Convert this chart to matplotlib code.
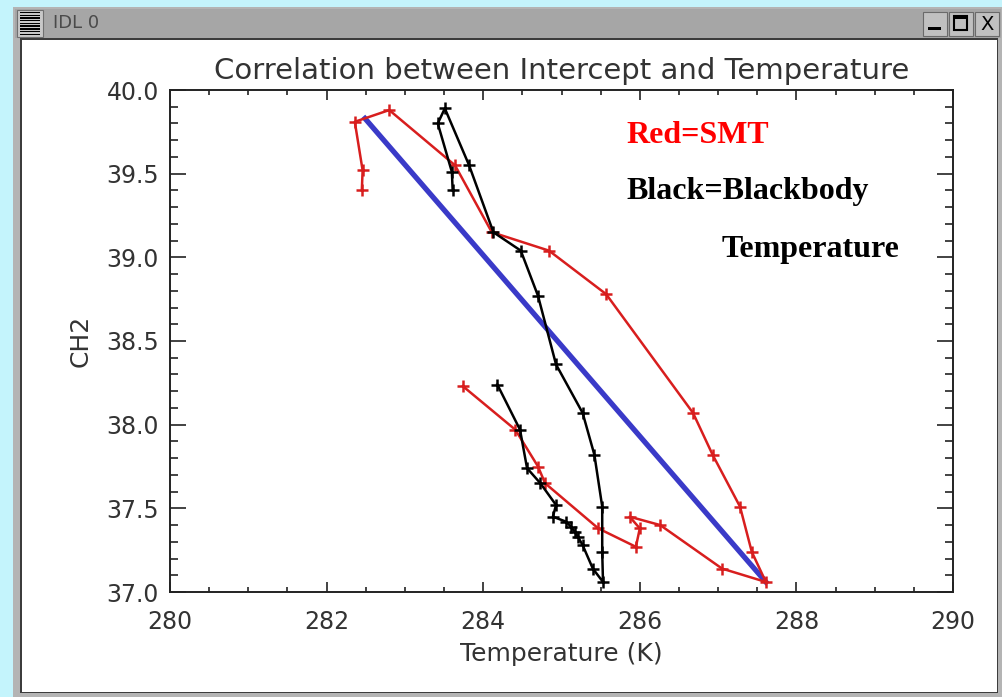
import matplotlib
matplotlib.use("Agg")
import matplotlib.pyplot as plt
from matplotlib.patches import Rectangle
from matplotlib.ticker import MultipleLocator

W, H = 1003, 697

# SMT temperature vs intercept (red)
smt_temp = [282.45, 282.46, 282.36, 282.80, 283.64, 284.11, 284.84, 285.57,
            286.68, 286.93, 287.28, 287.43, 287.61, 287.05, 286.26, 285.87,
            286.00, 285.95, 285.47, 284.79, 284.70, 284.41, 283.74]
smt_ch2 = [39.40, 39.52, 39.81, 39.88, 39.55, 39.15, 39.04, 38.78,
           38.07, 37.82, 37.51, 37.24, 37.06, 37.14, 37.40, 37.45,
           37.38, 37.27, 37.38, 37.65, 37.75, 37.97, 38.23]

# blackbody temperature vs intercept (black)
bb_temp = [284.18, 284.47, 284.56, 284.73, 284.93, 284.89, 285.06, 285.12,
           285.17, 285.21, 285.27, 285.40, 285.53, 285.52, 285.52, 285.42,
           285.27, 284.93, 284.70, 284.48, 284.13, 283.82, 283.51, 283.42,
           283.60, 283.61]
bb_ch2 = [38.24, 37.97, 37.74, 37.65, 37.52, 37.45, 37.42, 37.39,
          37.36, 37.33, 37.28, 37.14, 37.06, 37.24, 37.51, 37.82,
          38.07, 38.36, 38.77, 39.04, 39.15, 39.55, 39.89, 39.80,
          39.51, 39.40]

# straight reference line (blue)
line_temp = [282.49, 287.61]
line_ch2 = [39.83, 37.06]

X_TICKS = [280, 282, 284, 286, 288, 290]
Y_TICKS = [37.0, 37.5, 38.0, 38.5, 39.0, 39.5, 40.0]


def box(x, y, w, h):
    """pixel box (top-left origin) -> figure fraction rect"""
    return (x / W, 1 - (y + h) / H, w / W, h / H)


def frect(fig, x, y, w, h, **kw):
    l, b, ww, hh = box(x, y, w, h)
    fig.patches.append(Rectangle((l, b), ww, hh, transform=fig.transFigure,
                                 figure=fig, zorder=-5, **kw))


fig = plt.figure(figsize=(W / 100, H / 100), dpi=100)
fig.patch.set_facecolor("#c4f4fc")

# ---- window chrome ----
frect(fig, 13, 7, 990, 690, facecolor="#b4b4b4", edgecolor="none")
frect(fig, 15, 9, 986, 29, facecolor="#a6a6a6", edgecolor="none")
frect(fig, 20, 38, 978, 655, facecolor="#3c3c3c", edgecolor="none")
frect(fig, 22, 40, 975, 652, facecolor="white", edgecolor="none")

# menu icon
frect(fig, 17, 10, 26, 27, facecolor="#c8c8c8", edgecolor="#707070", lw=0.8)
for k in range(9):
    frect(fig, 20, 12 + k * 2.7, 20, 1.3, facecolor="black", edgecolor="none")
fig.text(53 / W, 1 - 23 / H, "IDL 0", fontsize=13, color="#4a4a4a",
         ha="left", va="center", family="DejaVu Sans")

# title bar buttons
for bx in (923, 949, 975):
    frect(fig, bx, 12, 24, 24, facecolor="#c0c0c0", edgecolor="#6a6a6a", lw=0.8)
frect(fig, 928, 27, 13, 3, facecolor="black", edgecolor="none")
frect(fig, 954, 16, 13, 14, facecolor="none", edgecolor="black", lw=1.5)
frect(fig, 954, 16, 13, 3, facecolor="black", edgecolor="none")
fig.text(987 / W, 1 - 24 / H, "X", fontsize=14, color="black",
         ha="center", va="center", family="DejaVu Sans")

# ---- plot ----
ax = fig.add_axes(box(170, 90, 783, 502))
ax.set_zorder(5)
ax.set_facecolor("white")
ax.plot(smt_temp, smt_ch2, color="#d81e1e", lw=1.8, marker="+",
        markersize=8, mew=1.8, zorder=3)
ax.plot(bb_temp, bb_ch2, color="black", lw=1.8, marker="+",
        markersize=8, mew=1.8, zorder=3)
ax.plot(line_temp, line_ch2, color="#3a3ac8", lw=3.8, zorder=2)

ax.set_xlim(280, 290)
ax.set_ylim(37.0, 40.0)
ax.set_xticks(X_TICKS)
ax.set_xticklabels([str(t) for t in X_TICKS])
ax.set_yticks(Y_TICKS)
ax.set_yticklabels([f"{t:.1f}" for t in Y_TICKS])
ax.xaxis.set_minor_locator(MultipleLocator(0.5))
ax.yaxis.set_minor_locator(MultipleLocator(0.1))

txt = "#333333"
ax.tick_params(axis="x", which="both", direction="in", top=True,
               labelsize=17, labelcolor=txt, pad=13, width=1.2, color="#222222")
ax.tick_params(axis="y", which="both", direction="in", right=True,
               labelsize=17, labelcolor=txt, pad=8, width=1.2, color="#222222")
ax.tick_params(axis="x", which="major", length=7.2)
ax.tick_params(axis="x", which="minor", length=3.6)
ax.tick_params(axis="y", which="major", length=11.3)
ax.tick_params(axis="y", which="minor", length=5.6)
for sp in ax.spines.values():
    sp.set_linewidth(1.4)
    sp.set_color("#222222")

ax.set_title("Correlation between Intercept and Temperature", fontsize=21,
             color=txt, pad=8)
ax.set_xlabel("Temperature (K)", fontsize=18, color=txt, labelpad=6)
ax.set_ylabel("CH2", fontsize=18, color=txt, labelpad=10)

serif = ["Liberation Serif", "DejaVu Serif"]
fig.text(626 / W, 1 - 143 / H, "Red=SMT", fontsize=23, color="#ff0000",
         fontweight="bold", family=serif, ha="left", va="baseline", zorder=10)
fig.text(626 / W, 1 - 199 / H, "Black=Blackbody", fontsize=23, color="black",
         fontweight="bold", family=serif, ha="left", va="baseline", zorder=10)
fig.text(722 / W, 1 - 257 / H, "Temperature", fontsize=23, color="black",
         fontweight="bold", family=serif, ha="left", va="baseline", zorder=10)

fig.savefig("out.png", dpi=100)
